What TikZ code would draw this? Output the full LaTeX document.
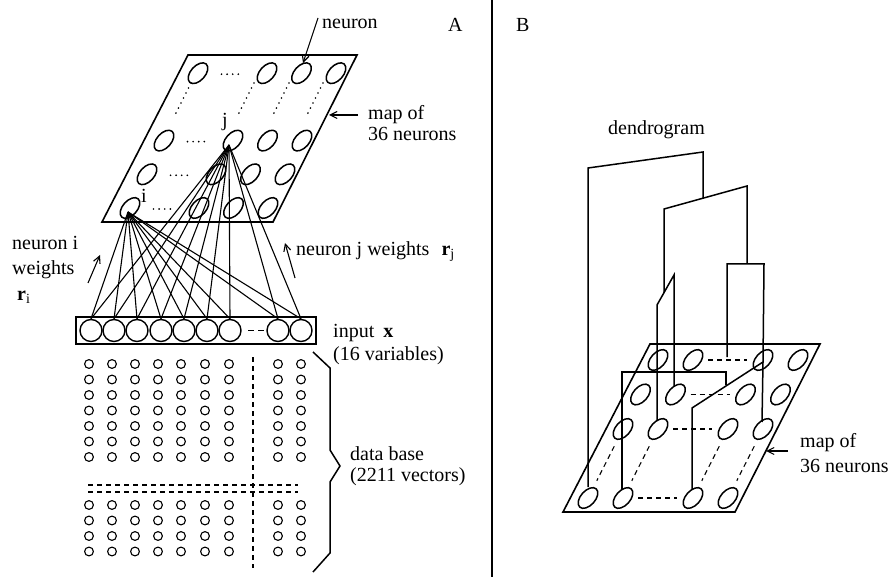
\documentclass[tikz,border=0pt]{standalone}
\usepackage{fontspec}
\setmainfont{Liberation Serif}
\usetikzlibrary{arrows.meta,shapes.geometric}

\begin{document}
\begin{tikzpicture}[x=1pt,y=-1pt,
  every node/.style={inner sep=0pt, font=\fontsize{20}{24}\selectfont},
  lbl/.style={anchor=base west},
  frame/.style={line width=1.6pt, line join=miter},
  wire/.style={line width=1.1pt},
  dendro/.style={line width=1.5pt, line join=miter},
  dotrow/.style={line width=1.9pt, line cap=round, dash pattern=on 0pt off 5.6pt},
  dashline/.style={line width=1.1pt, dash pattern=on 5pt off 4pt},
  pointer/.style={line width=1.1pt, -{Straight Barb[length=7pt,width=7pt]}},
  incircle/.style={circle, draw, line width=1.4pt, minimum size=22pt},
  datacircle/.style={circle, draw, line width=1.1pt, minimum size=8.8pt},
  unit/.style={draw, ellipse, line width=1.5pt, minimum width=14.5pt, minimum height=24.6pt, rotate=-42}
]
\useasboundingbox (0,0) rectangle (891,577);

% ---------------- Panel A ----------------
\node[lbl] (labA) at (448,32) {A};

% map of neurons
\draw[frame] (188,55) -- (357,55) -- (273,222) -- (102,222) -- cycle;
\foreach \r in {0,1,2,4} {
  \foreach \c in {0,2,3,4} {
    \node[unit] (a-\r-\c) at ({130+34.5*\c+17*\r},{208-33.7*\r}) {};
  }
  % dots for the hidden columns
  \draw[dotrow] ({130+34.5+17*\r-11},{209-33.7*\r}) -- ({130+34.5+17*\r+6},{209-33.7*\r});
}
% dots for the hidden rows
\draw[dotrow] (191,83) -- (173.5,118);
\draw[dotrow] (254,83) -- (236.5,118);
\draw[dotrow] (289,83) -- (271.5,118);
\draw[dotrow] (323,83) -- (305.5,118);

\node[lbl] (labj) at (222,127) {j};
\node[lbl] (labi) at (141,203) {i};
\coordinate (i) at (128,212);
\coordinate (j) at (229,145);

% input vector
\draw[line width=1.6pt] (76,317) rectangle (316,344);
\foreach \k/\x in {1/91,2/114,3/137,4/161,5/184,6/207,7/230,8/278,9/301} {
  \node[incircle] (x\k) at (\x,330.5) {};
}
\draw[line width=1.2pt, dash pattern=on 6pt off 4pt] (248,330.5) -- (264,330.5);

% weights from neurons i and j to every input
\foreach \k in {1,...,9} {
  \draw[wire] (i) -- (x\k.north);
  \draw[wire] (j) -- (x\k.north);
}

% data base
\foreach \y in {364,379.5,395,410.5,426,441.5,457,505,520.5,536,551.5} {
  \foreach \x in {89,112,135,158,181,205,229,278,301} {
    \node[datacircle] at (\x,\y) {};
  }
}
\draw[dashline] (88,485) -- (298,485);
\draw[dashline] (88,492) -- (298,492);
\draw[dashline] (253,357) -- (253,568);

% brace
\draw[line width=1.5pt, line join=miter] (313,352) -- (330,368) -- (330,450) -- (340,466)
  -- (330,482) -- (330,553) -- (313,572);

% labels and pointers of panel A
\node[lbl] (neuron) at (322,29) {neuron};
\coordinate (neuronTail) at (318,18);
\coordinate (neuronHead) at (303,63);
\draw[pointer] (neuronTail) -- (neuronHead);

\node[lbl] (mapA1) at (368,120) {map of};
\node[lbl] (mapA2) at (368,141) {36 neurons};
\coordinate (mapATail) at (358,115);
\coordinate (mapAHead) at (329,115);
\draw[pointer] (mapATail) -- (mapAHead);

\node[lbl] (wi1) at (12,250) {neuron i};
\node[lbl] (wi2) at (12,275) {weights};
\node[lbl] (wi3) at (17,300) {\textbf{r}\textsubscript{i}};
\coordinate (wiTail) at (88,283);
\coordinate (wiHead) at (100,255);
\draw[pointer] (wiTail) -- (wiHead);

\node[lbl] (wj) at (296,255) {neuron j weights\hspace{0.6em}\textbf{r}\textsubscript{j}};
\coordinate (wjTail) at (295,278);
\coordinate (wjHead) at (285,243);
\draw[pointer] (wjTail) -- (wjHead);

\node[lbl] (inp1) at (333,337) {input\hspace{0.45em}\textbf{x}};
\node[lbl] (inp2) at (333,360) {(16 variables)};
\node[lbl] (db1) at (350,460) {data base};
\node[lbl] (db2) at (350,481) {(2211 vectors)};

% divider between the panels
\draw[line width=1.2pt] (492,0) -- (492,577);

% ---------------- Panel B ----------------
\node[lbl] (labB) at (516,32) {B};
\node[lbl] (dendro) at (608,135) {dendrogram};

\draw[frame] (650,344) -- (820,344) -- (735,512) -- (563,512) -- cycle;
\foreach \r in {0,1,2,4} {
  \foreach \c in {0,1,3,4} {
    \node[unit] (b-\r-\c) at ({658+35*\c-17.5*\r},{360+34.5*\r}) {};
  }
  \draw[dashline] ({658+35-17.5*\r+15},{360+34.5*\r}) -- ({658+105-17.5*\r-16},{360+34.5*\r});
}
\foreach \c in {0,1,3,4} {
  \draw[dashline] ({658+35*\c-17.5*2.5},{360+34.5*2.5}) -- ({658+35*\c-17.5*3.5},{360+34.5*3.5});
}

% dendrogram links
\draw[dendro] (588,487) -- (588,168) -- (703,152) -- (703,198);
\draw[dendro] (664,293) -- (664,209) -- (747,186) -- (747,264);
\draw[dendro] (674,386) -- (674,275) -- (657,305) -- (657,421);
\draw[dendro] (727,357) -- (727,264) -- (764,264) -- (763,362) -- (762,422);
\draw[dendro] (763,362) -- (692,408) -- (692,489);
\draw[dendro] (622,489) -- (622,372) -- (726,372) -- (726,385);

\node[lbl] (mapB1) at (800,447) {map of};
\node[lbl] (mapB2) at (800,472) {36 neurons};
\coordinate (mapBTail) at (788,451);
\coordinate (mapBHead) at (766,451);
\draw[pointer] (mapBTail) -- (mapBHead);
\end{tikzpicture}
\end{document}
